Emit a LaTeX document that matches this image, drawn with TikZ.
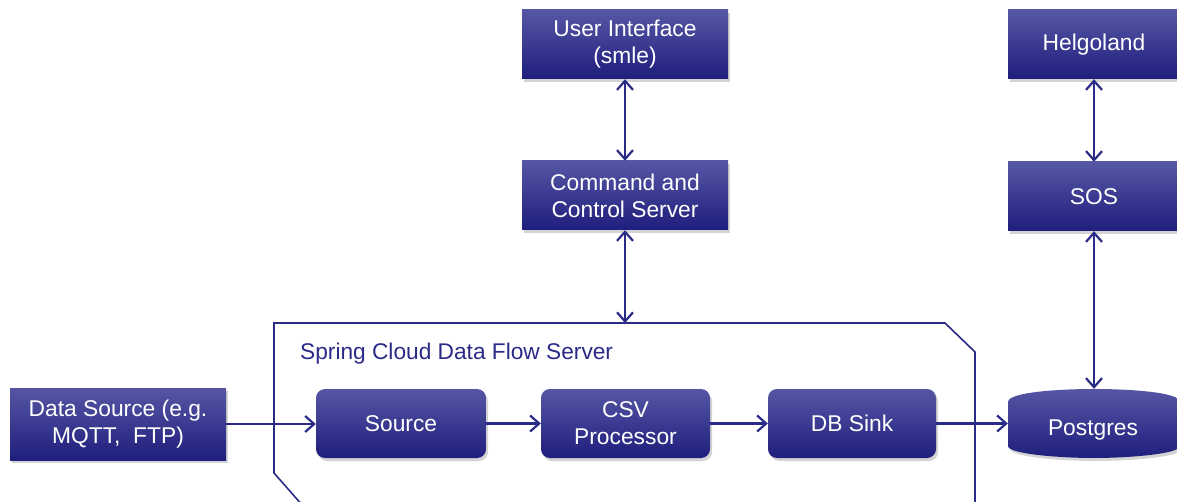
\documentclass[tikz,border=0pt]{standalone}
\usepackage{fontspec}
\setmainfont{Liberation Sans}
\usetikzlibrary{arrows.meta,shadows}
\definecolor{navy}{RGB}{42,42,135}
\definecolor{boxtop}{RGB}{86,86,165}
\definecolor{boxmid}{RGB}{40,40,135}
\definecolor{boxbot}{RGB}{30,30,125}
\begin{document}
\begin{tikzpicture}[x=1pt,y=-1pt,
  boxstyle/.style={draw=none, top color=boxtop, middle color=boxmid, bottom color=boxbot,
    text=white, align=center, inner sep=0pt, font=\fontsize{22.8}{27}\selectfont,
    drop shadow={shadow xshift=2pt, shadow yshift=-3pt, opacity=0.35}},
  sqbox/.style={boxstyle},
  rbox/.style={boxstyle, rounded corners=9pt},
  conn/.style={draw=navy, line width=2.2pt, -{Straight Barb[length=9pt,width=16pt]}},
  biconn/.style={draw=navy, line width=2.2pt, {Straight Barb[length=9pt,width=16pt]}-{Straight Barb[length=9pt,width=16pt]}},
  frame/.style={draw=navy, line width=1.6pt}
]
\useasboundingbox (0,0) rectangle (1177,502);

% frame
\draw[frame] (303,506) -- (274,473) -- (274,323) -- (945,323) -- (975,352) -- (975,506);
\coordinate (ftop) at (625,323);
\node[anchor=west, text=navy, font=\fontsize{22.7}{27}\selectfont, inner sep=0pt] (flab) at (300,354) {Spring Cloud Data Flow Server};

% boxes
\node[sqbox, minimum width=216pt, minimum height=72pt] (ds) at (118,424) {Data Source (e.g.\\MQTT,\ \ FTP)};
\node[rbox, minimum width=170pt, minimum height=69pt] (src) at (401,423.5) {Source};
\node[rbox, minimum width=169pt, minimum height=69pt] (csv) at (625.5,423.5) {CSV\\Processor};
\node[rbox, minimum width=168pt, minimum height=69pt] (dbs) at (852,423.5) {DB Sink};

\node[sqbox, minimum width=206pt, minimum height=69pt] (ui) at (625,44.5) {User Interface\\(smle)};
\node[sqbox, minimum width=206pt, minimum height=69pt] (cc) at (625,195.5) {Command and\\Control Server};
\node[sqbox, minimum width=172pt, minimum height=69pt] (hel) at (1094,44.5) {Helgoland};
\node[sqbox, minimum width=172pt, minimum height=69pt] (sos) at (1094,196.5) {SOS};

% Postgres
\path[top color=boxtop, middle color=boxmid, bottom color=boxbot,
      drop shadow={shadow xshift=2pt, shadow yshift=-3pt, opacity=0.35}]
  (1008,402) .. controls (1008,392) and (1060,389) .. (1094,389)
  .. controls (1128,389) and (1180,392) .. (1180,402)
  -- (1180,446) .. controls (1180,454) and (1128,458) .. (1094,458)
  .. controls (1060,458) and (1008,454) .. (1008,446) -- cycle;
\node[minimum width=172pt, minimum height=70pt, inner sep=0pt] (pg) at (1094,424) {};
\node[text=white, font=\fontsize{22.8}{27}\selectfont, inner sep=0pt] (pgt) at (1093,430) {Postgres};

% connectors
\draw[conn] (ds.east) -- (ds.east -| src.west);
\draw[conn] (src.east) -- (csv.west);
\draw[conn] (csv.east) -- (dbs.west);
\draw[conn] (dbs.east) -- (dbs.east -| pg.west);
\draw[biconn] (ui.south) -- (cc.north);
\draw[biconn] (cc.south) -- (ftop);
\draw[biconn] (hel.south) -- (sos.north);
\draw[biconn] (sos.south) -- (pg.north);
\end{tikzpicture}
\end{document}
